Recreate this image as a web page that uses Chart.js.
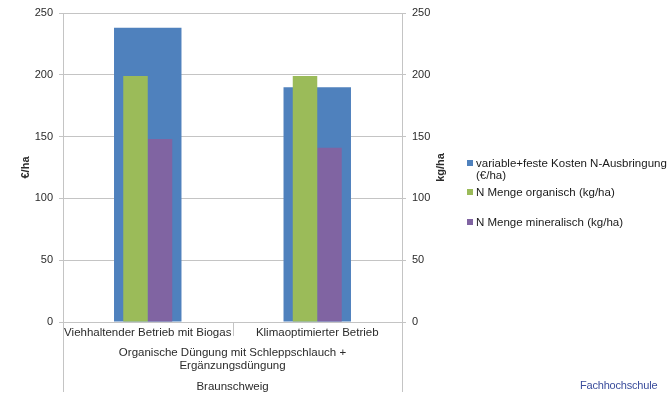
<!DOCTYPE html>
<html>
<head>
<meta charset="utf-8">
<script src="https://cdn.jsdelivr.net/npm/chart.js@4.4.1/dist/chart.umd.min.js"></script>
<style>
  body { margin: 0; background: #fff; font-family: "Liberation Sans", Arial, sans-serif; }
  #wrap { position: relative; width: 672px; height: 395px; overflow: hidden; }
  #legend { position: absolute; left: 0; top: 0; font-size: 11.5px; color: #1a1a1a; }
  .item { position: absolute; left: 476px; width: 196px; line-height: 12px; white-space: nowrap; }
  .box { position: absolute; left: -9px; top: 3px; width: 6px; height: 6px; }
  #logo { position: absolute; left: 580px; top: 379px; font-size: 11px; color: #3a4d9c; letter-spacing: -0.2px; }
</style>
</head>
<body>
<div id="wrap">
  <canvas id="chart" width="672" height="395"></canvas>
  <div id="legend"></div>
  <div id="logo">Fachhochschule</div>
</div>
<script>
  // ===== Daten =====
  const categories   = ['Viehhaltender Betrieb mit Biogas', 'Klimaoptimierter Betrieb'];
  const groupLabel   = ['Organische Düngung mit Schleppschlauch +', 'Ergänzungsdüngung'];
  const regionLabel  = 'Braunschweig';
  const kosten       = [238, 190];   // €/ha
  const nOrganisch   = [199, 199];   // kg/ha
  const nMineralisch = [148, 141];   // kg/ha
  const yTicks       = [0, 50, 100, 150, 200, 250];
  const seriesNames  = [
    ['variable+feste Kosten N-Ausbringung', '(€/ha)'],
    ['N Menge organisch (kg/ha)'],
    ['N Menge mineralisch (kg/ha)']
  ];

  // ===== Stil =====
  const FONT     = '"Liberation Sans", Arial, sans-serif';
  const GRID     = '#c4c4c4';
  const TXT      = '#2b2b2b';
  const COLORS   = ['#4f81bd', '#9bbb59', '#8064a2'];
  const tickFont = { family: FONT, size: 11 };
  const catFont  = { family: FONT, size: 11.5 };

  const setTicks = s => { s.ticks = yTicks.map(v => ({ value: v })); };

  // Achsentitel, Trennlinien und Gruppenbeschriftung unter der x-Achse
  const extras = {
    id: 'extras',
    afterDraw(chart) {
      const { ctx, chartArea: a } = chart;
      const mid = (a.left + a.right) / 2;
      ctx.save();
      ctx.strokeStyle = GRID;
      ctx.lineWidth = 1;
      ctx.beginPath();
      [a.left, a.right].forEach(x => {
        const px = Math.round(x) + 0.5;
        ctx.moveTo(px, a.bottom);
        ctx.lineTo(px, a.bottom + 70);
      });
      ctx.moveTo(Math.round(mid) + 0.5, a.bottom);
      ctx.lineTo(Math.round(mid) + 0.5, a.bottom + 14);
      ctx.stroke();

      ctx.fillStyle = TXT;
      ctx.font = '11.5px ' + FONT;
      ctx.textAlign = 'center';
      ctx.textBaseline = 'middle';
      groupLabel.forEach((t, i) => ctx.fillText(t, mid, a.bottom + 30.5 + i * 13.5));
      ctx.fillText(regionLabel, mid, a.bottom + 65);

      ctx.font = 'bold 11px ' + FONT;
      const yc = (a.top + a.bottom) / 2;
      [[26, '€/ha'], [441, 'kg/ha']].forEach(([x, t]) => {
        ctx.save();
        ctx.translate(x, yc);
        ctx.rotate(-Math.PI / 2);
        ctx.fillText(t, 0, 0);
        ctx.restore();
      });
      ctx.restore();
    }
  };

  const chart = new Chart(document.getElementById('chart'), {
    type: 'bar',
    data: {
      labels: categories,
      datasets: [
        { label: seriesNames[0].join(' '), data: kosten, yAxisID: 'y', backgroundColor: COLORS[0],
          grouped: false, categoryPercentage: 1, barPercentage: 0.398, order: 1 },
        { label: seriesNames[1].join(' '), data: nOrganisch, yAxisID: 'y2', backgroundColor: COLORS[1],
          categoryPercentage: 0.289, barPercentage: 1, order: 0 },
        { label: seriesNames[2].join(' '), data: nMineralisch, yAxisID: 'y2', backgroundColor: COLORS[2],
          categoryPercentage: 0.289, barPercentage: 1, order: 0 }
      ]
    },
    options: {
      responsive: false,
      animation: false,
      layout: { padding: { top: 13, right: 220, left: 0, bottom: 0 } },
      plugins: { legend: { display: false }, tooltip: { enabled: false } },
      scales: {
        x: {
          grid: { display: false, tickLength: 0 },
          border: { display: false },
          ticks: { font: catFont, color: TXT, padding: 4, maxRotation: 0, autoSkip: false },
          afterFit: s => { s.height = 73; }
        },
        y: {
          position: 'left', min: 0, max: 250,
          afterBuildTicks: setTicks,
          ticks: { font: tickFont, color: TXT, padding: 6 },
          grid: { color: GRID, tickLength: 4 },
          border: { color: GRID },
          afterFit: s => { s.width = 63; }
        },
        y2: {
          position: 'right', min: 0, max: 250,
          afterBuildTicks: setTicks,
          ticks: { font: tickFont, color: TXT, padding: 6 },
          grid: { color: GRID, tickLength: 4, drawOnChartArea: false },
          border: { color: GRID },
          afterFit: s => { s.width = 50; }
        }
      }
    },
    plugins: [extras]
  });

  // ===== Legende (HTML, damit der erste Eintrag umbricht) =====
  const legendEl = document.getElementById('legend');
  const legendTops = [157, 186, 216];
  chart.data.datasets.forEach((ds, i) => {
    const div = document.createElement('div');
    div.className = 'item';
    div.style.top = legendTops[i] + 'px';
    div.innerHTML = `<span class="box" style="background:${ds.backgroundColor}"></span>` +
      seriesNames[i].join('<br>');
    legendEl.appendChild(div);
  });
</script>
</body>
</html>
